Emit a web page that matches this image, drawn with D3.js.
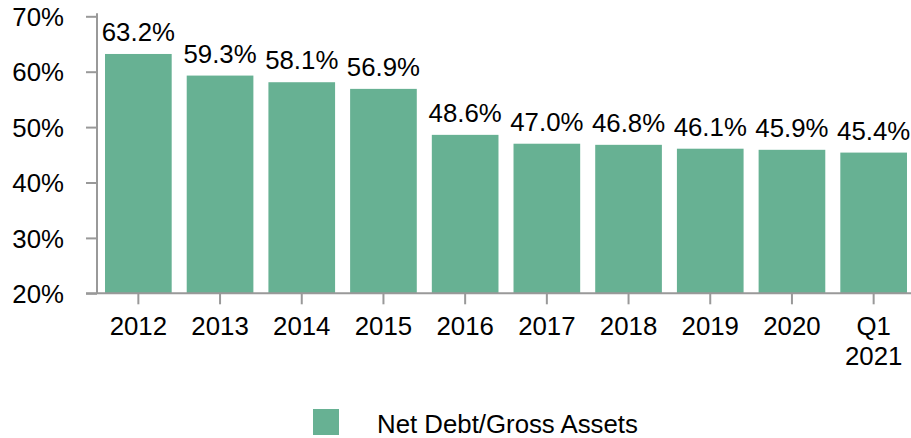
<!DOCTYPE html>
<html>
<head>
<meta charset="utf-8">
<script src="https://cdn.jsdelivr.net/npm/d3@7"></script>
<style>
  body { margin: 0; background: #fff; }
  svg { display: block; font-family: "Liberation Sans", Arial, sans-serif; }
  .axis path, .axis line { stroke: #999; stroke-width: 2px; }
</style>
</head>
<body>
<svg class="debt-chart"></svg>
<script>
var categories = ["2012", "2013", "2014", "2015", "2016", "2017", "2018", "2019", "2020", "Q1 2021"];
var values = [63.2, 59.3, 58.1, 56.9, 48.6, 47.0, 46.8, 46.1, 45.9, 45.4];
var yTicks = [20, 30, 40, 50, 60, 70];
var seriesName = "Net Debt/Gross Assets";

var width = 911, height = 438;
var barColor = "#67b193";
var fontSize = "25.8px";

var data = categories.map(function(c, i) { return {cat: c, value: values[i]}; });

var svg = d3.select(".debt-chart")
  .attr("width", width)
  .attr("height", height);

var x = d3.scaleBand()
  .domain(categories)
  .range([97.5, 914.5])
  .paddingInner(0.184)
  .paddingOuter(0.092);

var y = d3.scaleLinear()
  .domain([20, 70])
  .range([293.3, 16.3]);

// bars
svg.selectAll(".bar")
  .data(data)
  .enter().append("rect")
  .attr("class", "bar")
  .attr("x", function(d) { return x(d.cat); })
  .attr("y", function(d) { return y(d.value); })
  .attr("width", x.bandwidth())
  .attr("height", function(d) { return y(20) - y(d.value); })
  .style("fill", barColor);

// value labels
svg.selectAll(".val")
  .data(data)
  .enter().append("text")
  .attr("class", "val")
  .attr("x", function(d) { return x(d.cat) + x.bandwidth() / 2; })
  .attr("y", function(d) { return y(d.value) - 13; })
  .attr("text-anchor", "middle")
  .style("font-size", fontSize)
  .style("fill", "#000")
  .text(function(d) { return d.value.toFixed(1) + "%"; });

// y axis
var yAxis = svg.append("g")
  .attr("class", "axis")
  .attr("transform", "translate(97,0)")
  .call(d3.axisLeft(y).tickValues(yTicks).tickSize(11).tickSizeOuter(0)
    .tickFormat(function(d) { return d + "%"; }));
yAxis.select(".domain").attr("d", "M0," + y(20) + "V13.3");
yAxis.selectAll(".tick text")
  .attr("x", -33)
  .attr("dy", "0.36em")
  .style("font-size", fontSize)
  .style("fill", "#000")
  .style("font-family", "Liberation Sans, Arial, sans-serif");

// x axis
var xAxis = svg.append("g")
  .attr("class", "axis")
  .attr("transform", "translate(0," + y(20) + ")")
  .call(d3.axisBottom(x).tickSize(11).tickSizeOuter(0));
xAxis.select(".domain").attr("d", "M86,0H" + width);
xAxis.selectAll(".tick text").remove();

xAxis.selectAll(".tick").each(function(d) {
  var lines = d.split(" ");
  var t = d3.select(this).append("text")
    .attr("text-anchor", "middle")
    .style("font-size", fontSize)
    .style("fill", "#000")
    .style("font-family", "Liberation Sans, Arial, sans-serif");
  lines.forEach(function(l, i) {
    t.append("tspan").attr("x", 0).attr("y", 42 + i * 30).text(l);
  });
});

// legend
var legend = svg.append("g");
legend.append("rect")
  .attr("x", 313).attr("y", 409)
  .attr("width", 26).attr("height", 26)
  .style("fill", barColor);
legend.append("text")
  .attr("x", 377).attr("y", 433)
  .style("font-size", fontSize)
  .style("fill", "#000")
  .text(seriesName);
</script>
</body>
</html>
